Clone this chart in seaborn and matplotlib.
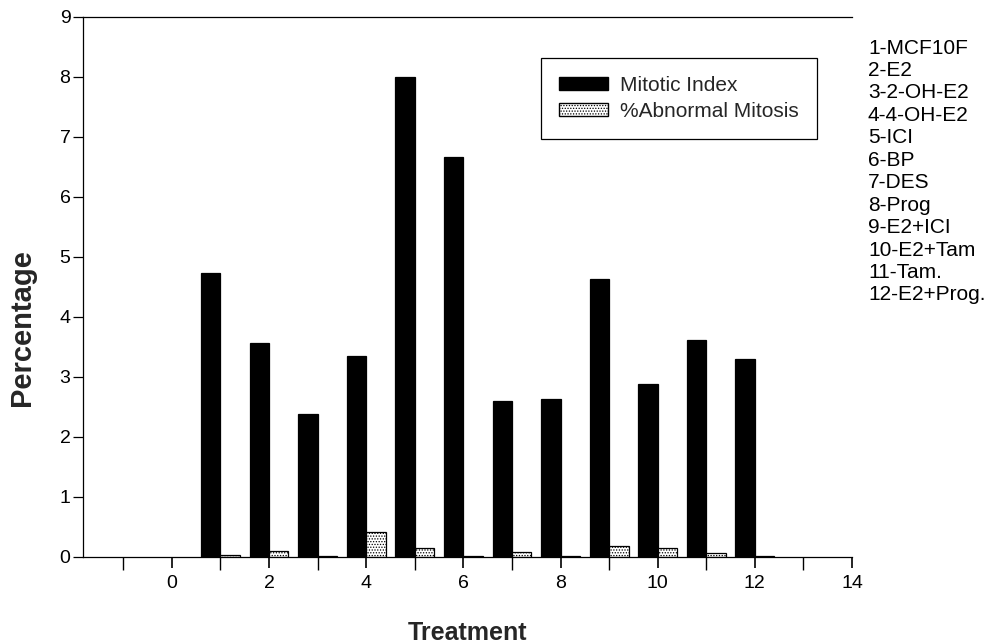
import matplotlib
matplotlib.use("Agg")
import matplotlib.pyplot as plt
import seaborn as sns
import pandas as pd
from matplotlib.patches import Patch
from matplotlib.ticker import FixedLocator, NullFormatter

treatments = [1, 2, 3, 4, 5, 6, 7, 8, 9, 10, 11, 12]
mitotic_index = [4.73, 3.56, 2.38, 3.34, 8.00, 6.66, 2.59, 2.63, 4.63, 2.88, 3.62, 3.30]
abnormal_mitosis = [0.02, 0.09, 0.01, 0.41, 0.14, 0.005, 0.08, 0.01, 0.17, 0.14, 0.06, 0.005]
series_names = ["Mitotic Index", "%Abnormal Mitosis"]
treatment_names = ["1-MCF10F", "2-E2", "3-2-OH-E2", "4-4-OH-E2", "5-ICI", "6-BP",
                   "7-DES", "8-Prog", "9-E2+ICI", "10-E2+Tam", "11-Tam.", "12-E2+Prog."]
x_ticks = [0, 2, 4, 6, 8, 10, 12, 14]
x_minor_ticks = [-1, 1, 3, 5, 7, 9, 11, 13]
y_ticks = [0, 1, 2, 3, 4, 5, 6, 7, 8, 9]

df = pd.DataFrame({
    "Treatment": treatments * 2,
    "Value": mitotic_index + abnormal_mitosis,
    "Series": [series_names[0]] * len(treatments) + [series_names[1]] * len(treatments),
})

sns.set_style("ticks")
plt.rcParams["font.family"] = ["Liberation Sans", "DejaVu Sans"]
plt.rcParams["hatch.linewidth"] = 0.6

fig = plt.figure(figsize=(9.87, 6.44), dpi=100)
ax = fig.add_axes([83 / 987, 1 - 556.5 / 644, (852 - 83) / 987, (556.5 - 17) / 644])

sns.barplot(data=df, x="Treatment", y="Value", hue="Series", native_scale=True,
            palette={series_names[0]: "black", series_names[1]: "white"},
            width=0.8, edgecolor="black", linewidth=0.9, saturation=1,
            errorbar=None, ax=ax, legend=False)

for p in ax.containers[1]:
    p.set_hatch("......")
    p.set_edgecolor("black")

ax.set_xlim(-1.83, 14)
ax.set_ylim(0, 9)
ax.xaxis.set_major_locator(FixedLocator(x_ticks))
ax.set_xticklabels([str(t) for t in x_ticks])
ax.xaxis.set_minor_locator(FixedLocator(x_minor_ticks))
ax.xaxis.set_minor_formatter(NullFormatter())
ax.set_yticks(y_ticks)
ax.set_yticklabels([str(t) for t in y_ticks])
ax.tick_params(axis="x", which="major", bottom=True, labelsize=14, direction="out",
               length=8, width=1.2, color="black", labelcolor="black", pad=5)
ax.tick_params(axis="x", which="minor", bottom=True, direction="out",
               length=9, width=1.0, color="black")
ax.tick_params(axis="y", which="major", left=True, labelsize=14, direction="out",
               length=7, width=0.9, color="black", labelcolor="black", pad=2)
for s in ["left", "bottom", "top"]:
    ax.spines[s].set_visible(True)
    ax.spines[s].set_linewidth(0.9)
    ax.spines[s].set_color("black")
ax.spines["right"].set_visible(False)

ax.set_xlabel("Treatment", fontsize=18, fontweight="bold", labelpad=21)
ax.set_ylabel("Percentage", fontsize=21, fontweight="bold")
ax.yaxis.set_label_coords(-0.061, 0.4235)

handles = [Patch(facecolor="black", edgecolor="black", label=series_names[0]),
           Patch(facecolor="white", edgecolor="black", hatch="......", label=series_names[1])]
leg = ax.legend(handles=handles, loc="upper left", bbox_to_anchor=(541 / 987, 1 - 58 / 644),
                bbox_transform=fig.transFigure, borderaxespad=0, fontsize=15,
                frameon=True, fancybox=False, edgecolor="black", framealpha=1,
                handlelength=2.35, handleheight=0.55, handletextpad=0.6,
                borderpad=0.85, labelspacing=0.35)
leg.get_frame().set_linewidth(0.9)

for i, name in enumerate(treatment_names):
    fig.text(868 / 987, 1 - (48 + i * 22.45) / 644, name, fontsize=15,
             ha="left", va="center", color="black")

fig.savefig("out.png", dpi=100)
